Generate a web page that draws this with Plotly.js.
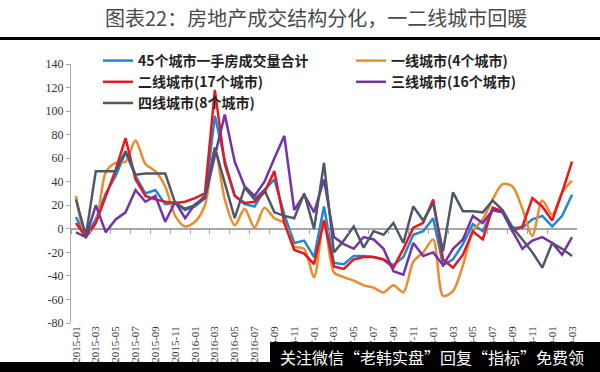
<!DOCTYPE html>
<html><head><meta charset="utf-8">
<script src="https://cdn.plot.ly/plotly-3.0.1.min.js"></script>
<style>html,body{margin:0;padding:0;background:#fff}#chart{width:600px;height:372px}</style>
</head><body><div id="chart"></div>
<script>
const months = ["2015-01","2015-02","2015-03","2015-04","2015-05","2015-06","2015-07","2015-08","2015-09","2015-10","2015-11","2015-12",
"2016-01","2016-02","2016-03","2016-04","2016-05","2016-06","2016-07","2016-08","2016-09","2016-10","2016-11","2016-12",
"2017-01","2017-02","2017-03","2017-04","2017-05","2017-06","2017-07","2017-08","2017-09","2017-10","2017-11","2017-12",
"2018-01","2018-02","2018-03","2018-04","2018-05","2018-06","2018-07","2018-08","2018-09","2018-10","2018-11","2018-12",
"2019-01","2019-02","2019-03"];

const total45 = [10,-7,8,30,45,65,45,30,33,21,22,16,19,26,96,58,28,21,19,33,42,12,-12,-10,-24,19,-29,-30,-23,-23,-24,-26,-31,-24,-5,-2,9,-31,-26,-13,4,-2,16,14,1,1,8,11,2,11,29];
const tier1 = [28,-5,5,48,56,57,75,55,49,36,11,2,6,20,67,25,3,17,1,18,9,5,-15,-17,-41,7,-37,-41,-44,-48,-50,-54,-48,-54,-28,-20,-9,-57,-53,-31,-2,8,25,38,36,17,-6,24,12,31,41];
const tier2 = [5,-7,5,28,50,77,42,28,25,23,22,23,26,30,118,55,28,22,23,31,49,5,-18,-21,-30,7,-32,-34,-26,-24,-24,-26,-33,-17,1,5,25,-26,-33,-22,-2,-9,18,15,-2,2,26,19,7,31,57];
const tier3 = [-3,-7,20,-3,8,14,33,23,28,6,23,9,21,26,62,97,57,36,28,40,60,79,16,29,14,42,-7,-13,-17,-7,-9,-17,-36,-39,-12,-23,-20,-31,-17,-9,11,5,16,14,-2,-17,-10,-7,-12,-22,-7];
const tier4 = [25,-6,49,49,49,66,46,47,47,47,22,17,20,28,69,38,9,35,25,33,14,11,9,30,0,56,-20,-10,2,-16,-2,-5,5,-12,19,7,22,-19,31,15,15,14,24,16,1,-9,-20,-33,-12,-17,-23];

const seriesNames = ["45个城市一手房成交量合计","一线城市(4个城市)","二线城市(17个城市)","三线城市(16个城市)","四线城市(8个城市)"];
const yTicks = [-80,-60,-40,-20,0,20,40,60,80,100,120,140];
const titleText = "图表22：房地产成交结构分化，一二线城市回暖";
const watermark = "关注微信“老韩实盘”回复“指标”免费领";

const W=600,H=372,L=71,R=23,T=64,B=49;
const pw=W-L-R, ph=H-T-B;
const px = x => (x-L)/pw;
const py = y => (H-B-y)/ph;

const xIdx = months.map((m,i)=>i);
const colors = ["#1F87D6","#EB8B2D","#E8161E","#7432A8","#4E5866"];
const vals = [total45,tier1,tier2,tier3,tier4];
const legendOf = ['legend','legend2','legend','legend2','legend'];
const traces = vals.map((v,k)=>({
  type:'scatter', mode:'lines', x:xIdx, y:v, name:seriesNames[k], legend:legendOf[k],
  line:{color:colors[k], width:2.5, shape: k===1?'spline':'linear', smoothing:0.8},
  xaxis: k===4?'x2':'x', hoverinfo:'skip'
}));

const labelIdx = xIdx.filter(i=>i%2===0);
const tickMarks = xIdx.filter(i=>i%2===1).map(i=>i-1.5);
const legFont = {family:'Noto Sans CJK SC', size:14, color:'#222', weight:'bold'};

const layout = {
  width:W, height:H, margin:{l:L,r:R,t:T,b:B},
  paper_bgcolor:'#fff', plot_bgcolor:'#fff',
  showlegend:true,
  legend:{orientation:'v', x:px(98), y:py(45), xanchor:'left', yanchor:'top', tracegroupgap:0,
    itemwidth:30, bgcolor:'rgba(0,0,0,0)', font:legFont},
  legend2:{orientation:'v', x:px(351), y:py(45), xanchor:'left', yanchor:'top', tracegroupgap:0,
    itemwidth:30, bgcolor:'rgba(0,0,0,0)', font:legFont},
  xaxis:{range:[-0.5,50.5], tickvals:labelIdx, ticktext:labelIdx.map(i=>months[i]), tickangle:-90,
    showline:false, ticks:'', showgrid:false, zeroline:false,
    tickfont:{family:'Liberation Serif', size:11, color:'#333'}},
  xaxis2:{range:[-0.5,50.5], overlaying:'x', anchor:'free', position:(0-(-80))/220,
    showline:false, ticks:'outside', ticklen:4, tickcolor:'#A0A0A0', tickvals:tickMarks,
    showticklabels:false, showgrid:false, zeroline:false},
  yaxis:{range:[-80,140], tickvals:yTicks, ticktext:yTicks.map(String),
    showline:true, linecolor:'#A6A6A6', linewidth:1, ticks:'outside', ticklen:4, tickcolor:'#A6A6A6',
    showgrid:false, zeroline:true, zerolinecolor:'#A6A6A6', zerolinewidth:2,
    tickfont:{family:'Liberation Serif', size:12, color:'#333'}},
  shapes:[
    {type:'rect', xref:'paper', yref:'paper', x0:px(0), x1:px(600), y0:py(40), y1:py(37), fillcolor:'#000', line:{width:0}},
    {type:'rect', xref:'paper', yref:'paper', x0:px(270), x1:px(600), y0:py(372), y1:py(342), fillcolor:'#000', line:{width:0}},
    {type:'rect', xref:'paper', yref:'paper', x0:px(0), x1:px(270), y0:py(372), y1:py(362), fillcolor:'#000', line:{width:0}}
  ],
  annotations:[
    {text:titleText, xref:'paper', yref:'paper', x:px(316), y:py(18), xanchor:'center', yanchor:'middle', showarrow:false,
     font:{family:'Noto Sans CJK SC', size:20, color:'#4a4a4a'}},
    {text:watermark, xref:'paper', yref:'paper', x:px(278), y:py(357), xanchor:'left', yanchor:'middle', showarrow:false,
     font:{family:'Noto Sans CJK SC', size:16, color:'#fff'}}
  ]
};
Plotly.newPlot('chart', traces, layout, {displayModeBar:false, staticPlot:true});
</script></body></html>
